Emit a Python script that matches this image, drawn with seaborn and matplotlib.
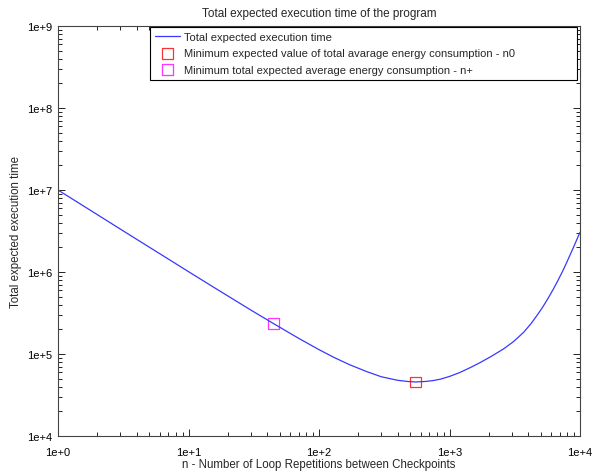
import matplotlib
matplotlib.use("Agg")
import matplotlib.pyplot as plt
import matplotlib.ticker as mticker
import seaborn as sns
import numpy as np
import pandas as pd

# values (log-log axes)
n_values = [1, 2, 3, 5, 7, 10, 15, 20, 30, 44.6, 70, 100, 130, 170, 232, 300,
            400, 480, 547, 650, 750, 850, 1009, 1200, 1436, 1714, 2100, 2587,
            3100, 3700, 4200, 4666, 5200, 5700, 6253, 6800, 7400, 8000, 8400,
            9000, 9500, 10000]
time_values = [1.0e7, 5.01e6, 3.34e6, 2.01e6, 1.44e6, 1.01e6, 6.77e5, 5.11e5,
               3.44e5, 2.36e5, 1.55e5, 1.13e5, 9.1e4, 7.45e4, 6.1e4, 5.28e4,
               4.78e4, 4.62e4, 4.56e4, 4.62e4, 4.74e4, 4.93e4, 5.35e4, 5.95e4,
               6.8e4, 7.85e4, 9.4e4, 1.15e5, 1.42e5, 1.84e5, 2.33e5, 2.93e5,
               3.77e5, 4.79e5, 6.2e5, 7.97e5, 1.04e6, 1.36e6, 1.62e6, 2.07e6,
               2.53e6, 3.05e6]

n0 = [547]
t_n0 = [4.56e4]
n_plus = [44.6]
t_plus = [2.36e5]

curve = pd.DataFrame({"n": n_values, "t": time_values})

sns.set_style("ticks")
plt.rcParams["font.family"] = ["Liberation Sans", "DejaVu Sans"]
plt.rcParams["xtick.direction"] = "in"
plt.rcParams["ytick.direction"] = "in"

fig = plt.figure(figsize=(5.92, 4.77), dpi=100)
ax = fig.add_axes([58 / 592, 40 / 477, 522 / 592, 410 / 477])

sns.lineplot(data=curve, x="n", y="t", color="#3838ff", linewidth=0.9,
             label="Total expected execution time", ax=ax)
sns.scatterplot(x=n0, y=t_n0, marker="s", s=60, facecolors="none",
                edgecolors="#ff3333", linewidth=0.9,
                label="Minimum expected value of total avarage energy consumption - n0",
                ax=ax)
sns.scatterplot(x=n_plus, y=t_plus, marker="s", s=60, facecolors="none",
                edgecolors="#ff33ff", linewidth=0.9,
                label="Minimum total expected average energy consumption - n+",
                ax=ax)

ax.set_xscale("log")
ax.set_yscale("log")
ax.set_xlim(1, 1e4)
ax.set_ylim(1e4, 1e9)

fmt = mticker.FuncFormatter(lambda v, p: "1e+%d" % int(round(np.log10(v))))
ax.xaxis.set_major_formatter(fmt)
ax.yaxis.set_major_formatter(fmt)
ax.xaxis.set_minor_formatter(mticker.NullFormatter())
ax.yaxis.set_minor_formatter(mticker.NullFormatter())
ax.xaxis.set_minor_locator(mticker.LogLocator(base=10, subs=np.arange(2, 10)))
ax.yaxis.set_minor_locator(mticker.LogLocator(base=10, subs=np.arange(2, 10)))

ax.tick_params(which="both", top=True, right=True, labelsize=8, colors="black", width=0.6)
ax.tick_params(which="major", length=5, pad=4)
ax.tick_params(which="minor", length=3)
ax.tick_params(axis="x", which="major", pad=8)
for s in ax.spines.values():
    s.set_linewidth(0.8)
    s.set_color("#444444")

ax.set_title("Total expected execution time of the program", fontsize=8.5, pad=7)
ax.set_xlabel("n - Number of Loop Repetitions between Checkpoints", fontsize=8.3, labelpad=1)
ax.set_ylabel("Total expected execution time", fontsize=8.3, labelpad=4)

leg = ax.legend(loc="upper left", bbox_to_anchor=(0.176, 0.876, 0.818, 0.122),
                mode="expand", borderaxespad=0,
                fontsize=8, fancybox=False, framealpha=1, edgecolor="black",
                handlelength=2.2, handletextpad=0.4, labelspacing=0.55,
                borderpad=0.5)
leg.get_frame().set_linewidth(0.8)

fig.savefig("out.png", dpi=100)
